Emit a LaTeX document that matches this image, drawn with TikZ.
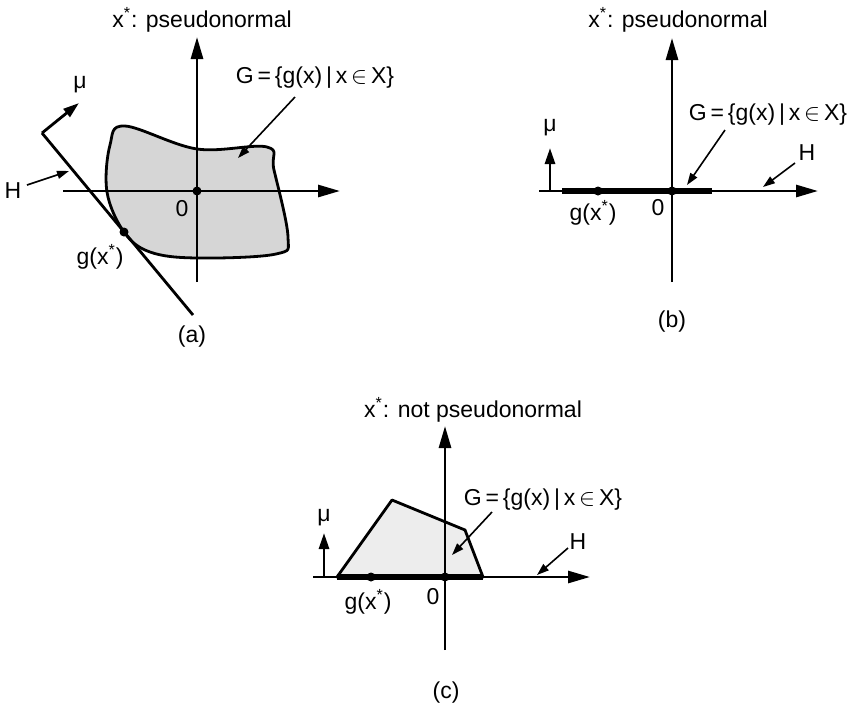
\documentclass[tikz,border=0pt]{standalone}
\usepackage{fontspec}
\setmainfont{Liberation Sans}
\usepackage{tikz}
\usetikzlibrary{arrows.meta}
\newcommand{\Gset}{G\,=\,\{g(x)\,|\,x\,$\in$\,X\}}
\tikzset{
  axis/.style={line width=1.4pt, -{Triangle[length=11pt,width=6pt]}},
  muarrow/.style={line width=1.4pt, -{Triangle[length=8pt,width=5pt]}},
  pointer/.style={line width=0.8pt, -{Triangle[length=6pt,width=4pt]}},
  bound/.style={line width=1.4pt, line join=round},
  setline/.style={line width=2.6pt},
  lbl/.style={font=\fontsize{11.5}{13}\selectfont, inner sep=1pt},
  dot/.style={circle, fill, inner sep=0pt, minimum size=4.5pt}
}

\begin{document}
\begin{tikzpicture}[x=0.5pt, y=-0.5pt]
\useasboundingbox (0,0) rectangle (851,708);

% (a)
\filldraw[bound, fill=gray!32] plot[smooth cycle, tension=0.6] coordinates {(125,126) (197,149) (267,147) (274,170) (288,237) (276,254) (197,258) (150,252) (124,232) (107,192) (110,145)};
\coordinate (aS) at (197,282); \coordinate (aN) at (197,37);
\coordinate (aW) at (63,191); \coordinate (aE) at (340,191);
\draw[axis] (aS) -- (aN);
\draw[axis] (aW) -- (aE);
\coordinate (aH1) at (42,133); \coordinate (aH2) at (193,315);
\draw[bound] (aH1) -- (aH2);
\coordinate (aMu) at (79,103);
\draw[muarrow] (aH1) -- (aMu);
\node[dot] (aO) at (197,191) {};
\node[dot] (aG) at (124,232) {};
\draw (202,20) node[lbl] (atitle) {x\textsuperscript{*}: pseudonormal};
\draw (80,85) node[lbl] (amu) {μ};
\draw (13,191) node[lbl] (aHl) {H};
\draw (182,209) node[lbl] (azero) {0};
\draw (100,257) node[lbl] (agx) {g(x\textsuperscript{*})};
\draw (315,78) node[lbl] (aset) {\Gset};
\draw (192,337) node[lbl] (acap) {(a)};
\coordinate (aHs) at (27,185); \coordinate (aHt) at (69,171);
\draw[pointer] (aHs) -- (aHt);
\coordinate (aGs) at (295,97); \coordinate (aGt) at (238,158);
\draw[pointer] (aGs) -- (aGt);

% (b)
\coordinate (bS) at (672,282); \coordinate (bN) at (672,38);
\coordinate (bW) at (539,191); \coordinate (bE) at (818,191);
\draw[axis] (bS) -- (bN);
\draw[axis] (bW) -- (bE);
\coordinate (bL) at (562,191); \coordinate (bR) at (712,191);
\draw[setline] (bL) -- (bR);
\coordinate (bMu0) at (550,191); \coordinate (bMu) at (550,148);
\draw[muarrow] (bMu0) -- (bMu);
\node[dot] (bO) at (672,191) {};
\node[dot] (bG) at (598,191) {};
\draw (678,20) node[lbl] (btitle) {x\textsuperscript{*}: pseudonormal};
\draw (550,128) node[lbl] (bmu) {μ};
\draw (593,213) node[lbl] (bgx) {g(x\textsuperscript{*})};
\draw (658,208) node[lbl] (bzero) {0};
\draw (768,115) node[lbl] (bset) {\Gset};
\draw (807,153) node[lbl] (bHl) {H};
\draw (672,322) node[lbl] (bcap) {(b)};
\coordinate (bGs) at (725,130); \coordinate (bGt) at (687,185);
\draw[pointer] (bGs) -- (bGt);
\coordinate (bHs) at (795,163); \coordinate (bHt) at (763,187);
\draw[pointer] (bHs) -- (bHt);

% (c)
\filldraw[bound, fill=gray!14] (337,577) -- (392,500) -- (465,530) -- (483,577) -- cycle;
\coordinate (cS) at (445,650); \coordinate (cN) at (445,426);
\coordinate (cW) at (313,577); \coordinate (cE) at (590,577);
\draw[axis] (cS) -- (cN);
\draw[axis] (cW) -- (cE);
\coordinate (cL) at (337,577); \coordinate (cR) at (483,577);
\draw[setline] (cL) -- (cR);
\coordinate (cMu0) at (324,577); \coordinate (cMu) at (324,533);
\draw[muarrow] (cMu0) -- (cMu);
\node[dot] (cO) at (445,577) {};
\node[dot] (cG) at (371,577) {};
\draw (473,410) node[lbl] (ctitle) {x\textsuperscript{*}: not pseudonormal};
\draw (324,518) node[lbl] (cmu) {μ};
\draw (368,602) node[lbl] (cgx) {g(x\textsuperscript{*})};
\draw (433,597) node[lbl] (czero) {0};
\draw (543,500) node[lbl] (cset) {\Gset};
\draw (578,542) node[lbl] (cHl) {H};
\draw (446,693) node[lbl] (ccap) {(c)};
\coordinate (cGs) at (492,512); \coordinate (cGt) at (452,555);
\draw[pointer] (cGs) -- (cGt);
\coordinate (cHs) at (568,548); \coordinate (cHt) at (537,575);
\draw[pointer] (cHs) -- (cHt);
\end{tikzpicture}
\end{document}
